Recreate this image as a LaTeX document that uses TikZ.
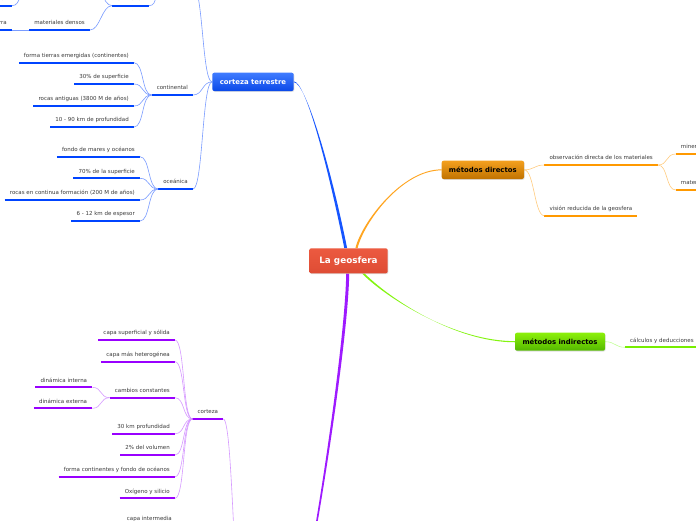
\documentclass[tikz,border=0pt]{standalone}
\usepackage{fontspec}
\setmainfont{DejaVu Sans}
\usetikzlibrary{calc,shadows}
\definecolor{cblue}{HTML}{0044FF}
\definecolor{cbluel}{HTML}{7A9CFF}
\definecolor{cblueM}{HTML}{1655FF}
\definecolor{corg}{HTML}{FF9900}
\definecolor{corgl}{HTML}{FFCC80}
\definecolor{corgM}{HTML}{FFA520}
\definecolor{cgrn}{HTML}{77EE00}
\definecolor{cgrnl}{HTML}{C4FF99}
\definecolor{cgrnM}{HTML}{84F510}
\definecolor{cpur}{HTML}{9900FF}
\definecolor{cpurl}{HTML}{D699FF}
\definecolor{cpurM}{HTML}{9E1AFF}
\definecolor{ctext}{HTML}{3A3A3A}
\definecolor{rootT}{HTML}{EC5A40}
\definecolor{rootB}{HTML}{DE4C34}
\definecolor{ctT}{HTML}{407CFF}
\definecolor{ctB}{HTML}{0A48E8}
\definecolor{mdT}{HTML}{F4A01E}
\definecolor{mdB}{HTML}{C07200}
\definecolor{miT}{HTML}{8CF00A}
\definecolor{miB}{HTML}{54B800}
\pgfdeclarelayer{bg}
\pgfsetlayers{bg,main}
\begin{document}
\begin{tikzpicture}[x=1pt,y=-1pt,
  leaf/.style={inner xsep=5pt, inner ysep=3.7pt, text height=4pt, text depth=1.3pt,
    font=\fontsize{5.5}{6}\selectfont, text=ctext},
  mainbox/.style={rounded corners=2pt, inner sep=0pt, font=\bfseries\fontsize{6.9}{8}\selectfont,
    drop shadow={opacity=0.25, shadow xshift=0.6pt, shadow yshift=-0.8pt}},
  mm/.style={to path={.. controls +(10,0) and +(-10,0) .. (\tikztotarget)}},
  lb/.style={draw=cbluel, line width=0.6pt},
  ol/.style={draw=corgl, line width=0.6pt},
  gl/.style={draw=cgrnl, line width=0.6pt},
  pl/.style={draw=cpurl, line width=0.6pt},
  ub/.style={draw=cblue, line width=2pt},
  uo/.style={draw=corg, line width=2pt},
  ug/.style={draw=cgrn, line width=2pt},
  up/.style={draw=cpur, line width=2pt}]
\useasboundingbox (0,0) rectangle (696,520);
\clip (0,0) rectangle (696,520);

% main boxes
\node[mainbox, minimum width=78.4pt, minimum height=25pt, top color=rootT, bottom color=rootB,
  text=white, font=\bfseries\fontsize{8.8}{10}\selectfont] (root) at (348.5,260.8) {La geosfera};
\node[mainbox, minimum width=81.4pt, minimum height=18.3pt, top color=ctT, bottom color=ctB, text=white] (ct) at (253,81.85) {corteza terrestre};
\node[mainbox, minimum width=82.3pt, minimum height=18.3pt, top color=mdT, bottom color=mdB, text=black] (md) at (482.85,169.85) {métodos directos};
\node[mainbox, minimum width=90pt, minimum height=18pt, top color=miT, bottom color=miB, text=black] (mi) at (560,341.7) {métodos indirectos};

% blue leaves
\node[leaf,anchor=south east] (top) at (149,5.7) {el interior};
\node[leaf,anchor=south east] (dens) at (90,30) {materiales densos};
\node[leaf,anchor=south east] (tierra) at (12,30) {la Tierra};
\node[leaf,anchor=south east] (tl) at (12,5.7) {exterior};
\node[leaf,anchor=south east] (cont) at (193,95) {continental};
\node[leaf,anchor=south east] (c1) at (134,62.7) {forma tierras emergidas (continentes)};
\node[leaf,anchor=south east] (c2) at (134,84) {30\% de superficie};
\node[leaf,anchor=south east] (c3) at (134,106) {rocas antiguas (3800 M de años)};
\node[leaf,anchor=south east] (c4) at (134,127) {10 - 90 km de profundidad};
\node[leaf,anchor=south east] (oce) at (193,189) {oceánica};
\node[leaf,anchor=south east] (o1) at (140,156.7) {fondo de mares y océanos};
\node[leaf,anchor=south east] (o2) at (140,178.3) {70\% de la superficie};
\node[leaf,anchor=south east] (o3) at (140,200) {rocas en continua formación (200 M de años)};
\node[leaf,anchor=south east] (o4) at (140,221) {6 - 12 km de espesor};

% orange leaves
\node[leaf,anchor=south west] (obs) at (544.3,165) {observación directa de los materiales};
\node[leaf,anchor=south west] (vis) at (544.3,215.7) {visión reducida de la geosfera};
\node[leaf,anchor=south west] (mine) at (675.7,154) {minería};
\node[leaf,anchor=south west] (mate) at (675.7,190) {materiales volcánicos};

% green leaf
\node[leaf,anchor=south west] (calc) at (625,347.3) {cálculos y deducciones};

% purple leaves
\node[leaf,anchor=south east] (cor) at (223.3,419) {corteza};
\node[leaf,anchor=south east] (p1) at (175,340) {capa superficial y sólida};
\node[leaf,anchor=south east] (p2) at (175,361.7) {capa más heterogénea};
\node[leaf,anchor=south east] (p3) at (175,397.7) {cambios constantes};
\node[leaf,anchor=south east] (p4) at (175,433.7) {30 km profundidad};
\node[leaf,anchor=south east] (p5) at (175,455) {2\% del volumen};
\node[leaf,anchor=south east] (p6) at (175,476.7) {forma continentes y fondo de océanos};
\node[leaf,anchor=south east] (p7) at (175,498.3) {Oxígeno y silicio};
\node[leaf,anchor=south east] (d1) at (92.3,387.3) {dinámica interna};
\node[leaf,anchor=south east] (d2) at (92.3,408.3) {dinámica externa};
\node[leaf,anchor=south east] (ci) at (177,526) {capa intermedia};

% off-canvas ends
\coordinate (offTop) at (163,-12);
\coordinate (offTopE) at (193,-14);
\coordinate (offSib) at (90,-22);
\coordinate (offTL) at (28,-12);
\coordinate (offP) at (310,560);
\coordinate (offPw) at (243.3,620);

\begin{pgfonlayer}{bg}
\clip (0,0) rectangle (696,520);
\fill[white] (0,0) rectangle (696,520);
% underlines
\foreach \n in {top,dens,tierra,tl,cont,c1,c2,c3,c4,oce,o1,o2,o3,o4}
  \draw[ub] (\n.south west) -- (\n.south east);
\foreach \n in {obs,vis,mine,mate}
  \draw[uo] (\n.south west) -- (\n.south east);
\draw[ug] (calc.south west) -- (calc.south east);
\foreach \n in {cor,p1,p2,p3,p4,p5,p6,p7,d1,d2,ci}
  \draw[up] (\n.south west) -- (\n.south east);

% thin blue connectors
\draw[lb] (top.south east) to[mm] (offTop);
\draw[lb] (offTopE) to[mm] (ct.west);
\draw[lb] (offSib) to[mm] (top.south west);
\draw[lb] (dens.south east) to[mm] (top.south west);
\draw[lb] (tierra.south east) -- (dens.south west);
\draw[lb] (tl.south east) to[mm] (offTL);
\draw[lb] (cont.south east) to[mm] (ct.west);
\draw[lb] (oce.south east) to[mm] (ct.west);
\foreach \n in {c1,c2,c3,c4} \draw[lb] (\n.south east) to[mm] (cont.south west);
\foreach \n in {o1,o2,o3,o4} \draw[lb] (\n.south east) to[mm] (oce.south west);

% thin orange
\draw[ol] (md.east) to[mm] (obs.south west);
\draw[ol] (md.east) to[mm] (vis.south west);
\draw[ol] (obs.south east) to[mm] (mine.south west);
\draw[ol] (obs.south east) to[mm] (mate.south west);

% thin green
\draw[gl] (mi.east) to[mm] (calc.south west);

% thin purple
\foreach \n in {p1,p2,p3,p4,p5,p6,p7} \draw[pl] (\n.south east) to[mm] (cor.south west);
\draw[pl] (d1.south east) to[mm] (p3.south west);
\draw[pl] (d2.south east) to[mm] (p3.south west);
\draw[pl] (cor.south east) to[mm] (offPw);
\draw[pl] (ci.south east) to[mm] (offPw);

% main tapered connectors
\coordinate (bB) at ($(root.north)+(-2.8,0)$);
\fill[cblueM] ($(ct.east)+(0,-0.4)$) .. controls +(12,0) and +(-15.7,-78.3) .. ($(bB)+(-1.4,0)$)
  -- ($(bB)+(1.4,0)$) .. controls +(-15.7,-78.3) and +(12,0) .. ($(ct.east)+(0,0.4)$) -- cycle;
\coordinate (oA) at ($(root.north)+(8,0)$);
\fill[corgM] ($(oA)+(-1.1,0)$) .. controls +(6,-25) and +(-40,0) .. ($(md.west)+(0,-0.5)$)
  -- ($(md.west)+(0,0.5)$) .. controls +(-40,0) and +(6,-25) .. ($(oA)+(1.1,0)$) -- cycle;
\coordinate (gA) at ($(root.south)+(14.8,0)$);
\fill[cgrnM] ($(gA)+(-1.3,0)$) .. controls +(25,25) and +(-60,0) .. ($(mi.west)+(0,-0.55)$)
  -- ($(mi.west)+(0,0.55)$) .. controls +(-60,0) and +(25,25) .. ($(gA)+(1.3,0)$) -- cycle;
\coordinate (pA) at ($(root.south)+(-0.8,0)$);
\fill[cpurM] ($(pA)+(-1.5,0)$) .. controls +(-0.7,56.7) and +(15,-80) .. ($(offP)+(-0.8,0)$)
  -- ($(offP)+(0.8,0)$) .. controls +(15,-80) and +(-0.7,56.7) .. ($(pA)+(1.5,0)$) -- cycle;
\end{pgfonlayer}
\end{tikzpicture}
\end{document}
